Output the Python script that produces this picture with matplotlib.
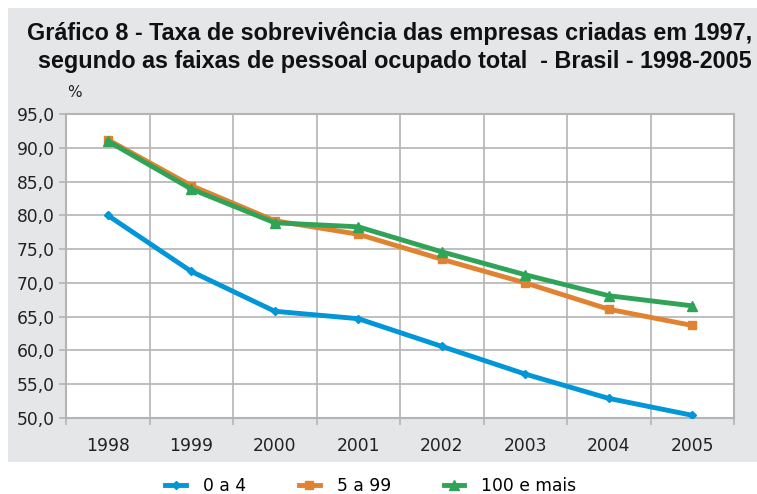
import numpy as np
import matplotlib
matplotlib.use("Agg")
import matplotlib.pyplot as plt
from matplotlib.patches import Rectangle

# dados
anos = ["1998", "1999", "2000", "2001", "2002", "2003", "2004", "2005"]
faixa_0_4 = [80.0, 71.7, 65.8, 64.7, 60.6, 56.5, 52.9, 50.4]
faixa_5_99 = [91.2, 84.4, 79.2, 77.2, 73.5, 70.0, 66.1, 63.7]
faixa_100 = [91.0, 83.9, 78.9, 78.3, 74.6, 71.2, 68.1, 66.6]
rotulos = ["0 a 4", "5 a 99", "100 e mais"]

plt.rcParams['font.family'] = ['DejaVu Sans']

W, H = 757, 494
fig = plt.figure(figsize=(W / 100, H / 100), dpi=100)

# painel cinza de fundo
fig.patches.append(Rectangle((8 / W, 1 - 462 / H), 749 / W, 454 / H,
                             transform=fig.transFigure, facecolor="#e5e6e8",
                             edgecolor="none", zorder=-1))

titulo = dict(ha="right", va="baseline", fontsize=16.8, fontweight="bold",
              color="#111111", family=["Liberation Sans", "DejaVu Sans"])
fig.text(752 / W, 1 - 40 / H, "Gráfico 8 - Taxa de sobrevivência das empresas criadas em 1997,", **titulo)
fig.text(752 / W, 1 - 68 / H, "segundo as faixas de pessoal ocupado total  - Brasil - 1998-2005", **titulo)

ax = fig.add_axes([66 / W, 1 - 418 / H, 668 / W, 304 / H])
ax.set_facecolor("white")

x = np.arange(len(anos))
cores = ["#0096d8", "#e0822f", "#2fa357"]
marcadores = ["D", "s", "^"]
tamanhos = [4, 6, 7]
for serie, cor, m, ms, rot in zip([faixa_0_4, faixa_5_99, faixa_100], cores, marcadores, tamanhos, rotulos):
    ax.plot(x, serie, color=cor, lw=3.5, marker=m, ms=ms, label=rot, zorder=3)

ax.set_xlim(-0.5, len(anos) - 0.5)
ax.set_ylim(50, 95)
ax.set_yticks(np.arange(50, 96, 5))
ax.set_yticklabels([f"{v:.1f}".replace(".", ",") for v in np.arange(50, 96, 5)])
ax.set_xticks(x)
ax.set_xticklabels(anos)
ax.set_xticks(np.arange(-0.5, len(anos), 1), minor=True)

ax.grid(True, axis="y", color="#b4b4b4", lw=1.2, zorder=1)
ax.grid(True, axis="x", which="minor", color="#b4b4b4", lw=1.2, zorder=1)
ax.tick_params(axis="x", which="major", length=0, pad=14, labelsize=12.3, colors="#222222")
ax.tick_params(axis="x", which="minor", length=5, width=1.2, color="#b4b4b4")
ax.tick_params(axis="y", length=5, width=1.2, color="#b4b4b4", labelsize=12.3, labelcolor="#222222", pad=3)
for s in ax.spines.values():
    s.set_color("#b4b4b4")
    s.set_linewidth(1.5)

fig.text(67 / W, 1 - 97 / H, "%", fontsize=11, color="#222222", ha="left", va="baseline")

fig.legend(loc="center", bbox_to_anchor=(371 / W, 1 - 486 / H), ncol=3, frameon=False,
           fontsize=12.3, handlelength=1.2, columnspacing=3.1, handletextpad=1.0)

fig.savefig("out.png", dpi=100)
